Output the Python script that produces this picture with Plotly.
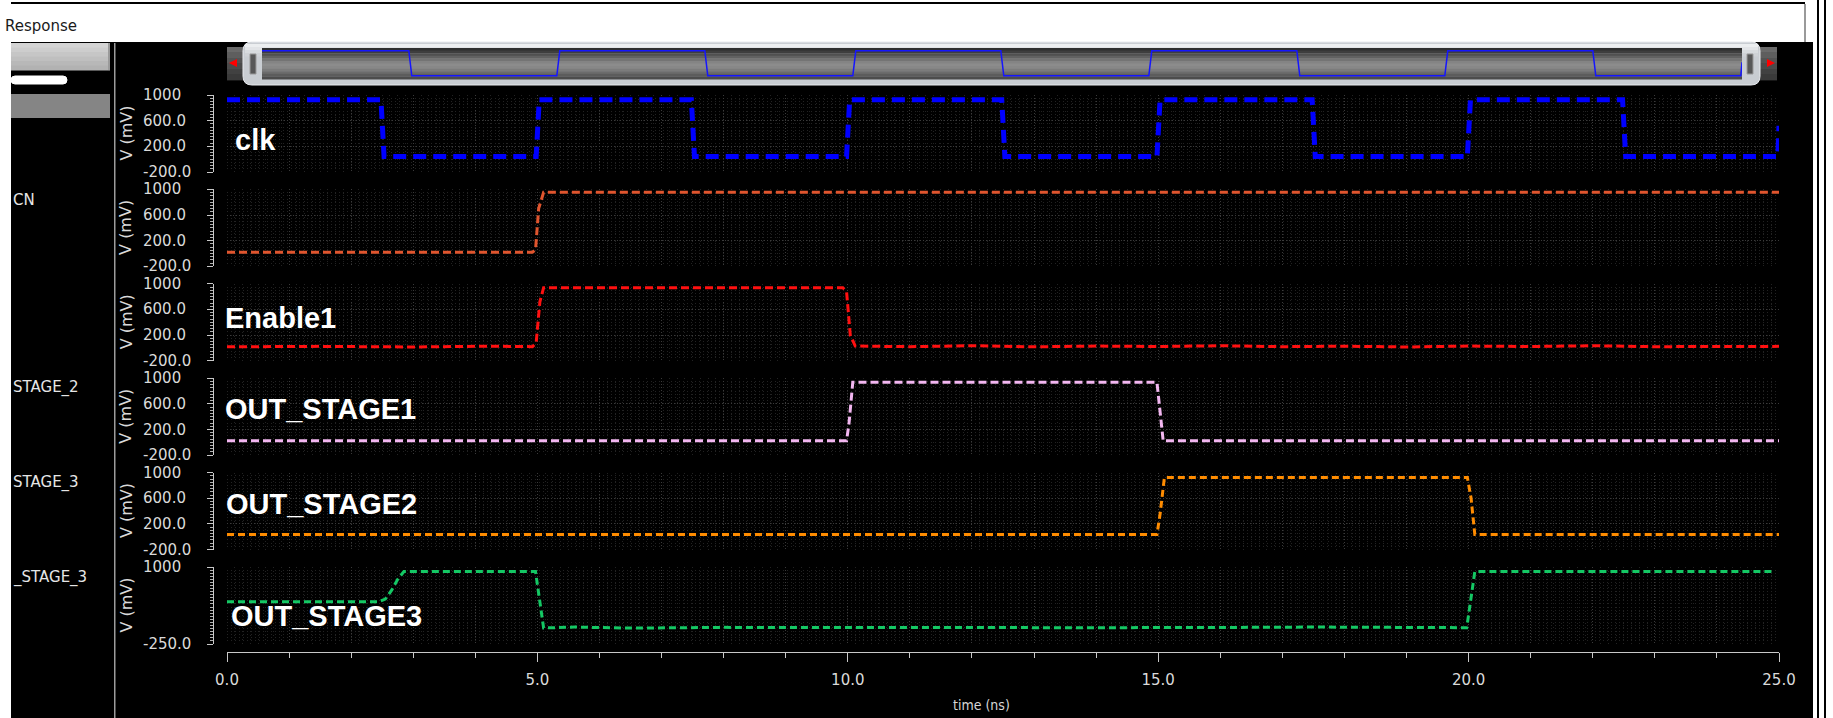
import plotly.graph_objects as go

# ---------------- data ----------------
time_ticks = [0, 5, 10, 15, 20, 25]
time_tick_text = ["0.0", "5.0", "10.0", "15.0", "20.0", "25.0"]

volt_ticks = [-200, 200, 600, 1000]
volt_tick_text = ["-200.0", "200.0", "600.0", "1000"]
volt_ticks_last = [-250, 1000]
volt_tick_text_last = ["-250.0", "1000"]

clk_t = [0.0, 2.48, 2.53, 4.98, 5.03, 7.48, 7.53, 9.98, 10.03, 12.48, 12.53,
         14.98, 15.03, 17.48, 17.53, 19.98, 20.03, 22.48, 22.53, 24.98, 25.0]
clk_v = [925, 925, 40, 40, 925, 925, 40, 40, 925, 925, 40,
         40, 925, 925, 40, 40, 925, 925, 40, 40, 520]

cn_t = [0.0, 4.92, 4.97, 5.02, 5.10, 25.0]
cn_v = [20, 20, 60, 700, 955, 955]

en_t = [0.0, 1.5, 3.0, 4.2, 4.92, 4.98, 5.04, 5.10, 9.92, 9.98, 10.04, 10.12,
        11.0, 12.0, 13.0, 14.0, 15.0, 16.0, 17.0, 18.0, 19.0, 20.0, 21.0,
        22.0, 23.0, 24.0, 25.0]
en_v = [18, 25, 15, 28, 20, 80, 720, 940, 940, 880, 200, 30,
        20, 35, 18, 30, 22, 35, 20, 28, 15, 30, 22,
        35, 20, 28, 25]

s1_t = [0.0, 9.98, 10.02, 10.08, 14.98, 15.02, 15.08, 25.0]
s1_v = [25, 25, 300, 935, 935, 600, 25, 25]

s2_t = [0.0, 14.98, 15.03, 15.10, 19.98, 20.04, 20.10, 25.0]
s2_v = [35, 35, 350, 925, 925, 600, 35, 35]

s3_t = [0.0, 2.45, 2.55, 2.65, 2.75, 2.85, 4.97, 5.03, 5.10, 5.6, 6.5, 8.0,
        10.0, 12.0, 14.0, 16.0, 17.5, 19.97, 20.02, 20.10, 24.9]
s3_v = [437, 437, 480, 620, 800, 925, 925, 500, 10, 25, 8, 20,
        15, 18, 15, 18, 25, 15, 400, 925, 925]

signals = [
    ("clk", clk_t, clk_v),
    ("CN", cn_t, cn_v),
    ("Enable1", en_t, en_v),
    ("OUT_STAGE1", s1_t, s1_v),
    ("OUT_STAGE2", s2_t, s2_v),
    ("OUT_STAGE3", s3_t, s3_v),
]
panel_titles = ["clk", "", "Enable1", "OUT_STAGE1", "OUT_STAGE2", "OUT_STAGE3"]
browser_names = ["", "CN", "", "STAGE_2", "STAGE_3", "_STAGE_3"]

# ---------------- styling ----------------
W, H = 1833, 718


def px(x):
    return x / W


def py(y):
    return 1 - y / H


colors = ["#0000ff", "#e0552e", "#ff1010", "#f2b6f0", "#ff8c00", "#14c864"]
widths = [5, 3, 3, 3, 3, 3]
dashes = ["13px,7px", "8px,4px", "8px,4px", "8px,4px", "7px,4px", "7px,4px"]
label_pos = [(233, 140), None, (223, 318), (223, 409), (224, 504), (229, 616)]
name_pos = [None, 200, None, 388, 483, 577]

X0, X1 = 227, 1779
RULER_X = 213
panel_top = [95 + 94.4 * i for i in range(6)]
PANEL_H = 77

axis_font = dict(family="DejaVu Sans", size=15, color="#dadada")
GRID_MAJOR = "#3a3a3a"
GRID_MINOR = "#222222"

fig = go.Figure()
layout = dict(
    width=W, height=H, margin=dict(l=0, r=0, t=0, b=0, autoexpand=False),
    paper_bgcolor="#ffffff", plot_bgcolor="rgba(0,0,0,0)",
    showlegend=False,
)
annotations = []
shapes = []

for i, (name, t, v) in enumerate(signals):
    n = i + 1
    xa = "xaxis" if n == 1 else f"xaxis{n}"
    ya = "yaxis" if n == 1 else f"yaxis{n}"
    top = panel_top[i]
    bot = top + PANEL_H
    last = i == 5
    rng = [-250, 1000] if last else [-200, 1000]
    tvals = volt_ticks_last if last else volt_ticks
    ttext = volt_tick_text_last if last else volt_tick_text

    fig.add_trace(go.Scatter(
        x=t, y=v, mode="lines", name=name,
        xaxis="x" if n == 1 else f"x{n}", yaxis="y" if n == 1 else f"y{n}",
        line=dict(color=colors[i], width=widths[i], dash=dashes[i]),
        hoverinfo="skip",
    ))

    layout[xa] = dict(
        domain=[px(X0), px(X1)], range=[0, 25], anchor="y" if n == 1 else f"y{n}",
        showticklabels=False, showline=False, ticks="", zeroline=False, automargin=False,
        showgrid=True, dtick=1, tick0=0, gridcolor=GRID_MAJOR, griddash="1px,2px",
        minor=dict(dtick=0.125, showgrid=True, gridcolor=GRID_MINOR, griddash="1px,3px"),
    )
    if n > 1:
        layout[xa]["matches"] = "x"
    layout[ya] = dict(
        domain=[py(bot), py(top)], range=rng, anchor="free", position=px(RULER_X),
        showline=True, linecolor="#c8c8c8", linewidth=1, automargin=False,
        ticks="outside", ticklen=6, tickcolor="#c8c8c8", tickwidth=1,
        tickmode="array", tickvals=tvals, showticklabels=False, zeroline=False,
        showgrid=True, gridcolor=GRID_MAJOR, griddash="1px,2px",
        minor=dict(tickmode="linear", tick0=rng[0], dtick=50, ticks="outside", ticklen=3,
                   tickcolor="#b0b0b0", showgrid=True, gridcolor=GRID_MINOR,
                   griddash="1px,3px"),
    )
    yref = "y" if n == 1 else f"y{n}"
    for val, txt in zip(tvals, ttext):
        annotations.append(dict(
            x=px(141), xref="paper", y=val, yref=yref, text=txt, showarrow=False,
            xanchor="left", yanchor="middle", font=axis_font,
        ))
    annotations.append(dict(
        x=px(126), xref="paper", y=py(top + PANEL_H / 2), yref="paper",
        text="V (mV)", textangle=-90, showarrow=False, xanchor="center",
        yanchor="middle", font=dict(family="DejaVu Sans", size=16, color="#dadada"),
    ))
    if panel_titles[i] and label_pos[i]:
        lx, ly = label_pos[i]
        annotations.append(dict(
            x=px(lx), y=py(ly), xref="paper", yref="paper", text=panel_titles[i],
            showarrow=False, xanchor="left", yanchor="middle",
            font=dict(family="Liberation Sans", size=29, color="#ffffff", weight="bold"),
        ))
    if browser_names[i]:
        annotations.append(dict(
            x=px(11), y=py(name_pos[i]), xref="paper", yref="paper",
            text=browser_names[i], showarrow=False, xanchor="left", yanchor="middle",
            font=dict(family="DejaVu Sans", size=15, color="#e6e6e6"),
        ))

# bottom time axis
layout["xaxis7"] = dict(
    domain=[px(X0), px(X1)], range=[0, 25], anchor="free", position=py(652),
    showline=True, linecolor="#c8c8c8", linewidth=1, showgrid=False, zeroline=False,
    automargin=False,
    tickmode="array", tickvals=time_ticks, ticktext=time_tick_text,
    ticks="outside", ticklen=9, tickcolor="#c8c8c8", tickfont=axis_font,
    ticklabelstandoff=5,
    minor=dict(tickmode="linear", tick0=0, dtick=1, ticks="outside", ticklen=5,
               tickcolor="#c8c8c8", showgrid=False),
)
layout["yaxis7"] = dict(domain=[0, 0.02], range=[0, 1], visible=False, automargin=False)
fig.add_trace(go.Scatter(x=[time_ticks[0], time_ticks[-1]], y=[0, 0], xaxis="x7",
                         yaxis="y7", mode="markers", marker=dict(opacity=0),
                         hoverinfo="skip"))
annotations.append(dict(
    x=px(982), y=py(705), xref="paper", yref="paper", text="time (ns)",
    showarrow=False, xanchor="center", yanchor="middle",
    font=dict(family="DejaVu Sans Condensed, DejaVu Sans", size=14, color="#d6d6d6"),
))

# overview waveform inside the scroll bar
layout["xaxis8"] = dict(domain=[px(262), px(1742)], range=[0, 25], visible=False,
                        automargin=False)
layout["yaxis8"] = dict(domain=[py(79), py(48)], range=[-70, 1020], visible=False,
                        automargin=False)
fig.add_trace(go.Scatter(x=clk_t, y=clk_v, xaxis="x8", yaxis="y8", mode="lines",
                         line=dict(color="#1515ff", width=1.5), hoverinfo="skip"))


def rect(x0, y0, x1, y1, fill, line=None):
    return dict(type="rect", xref="paper", yref="paper", layer="below",
                x0=px(x0), x1=px(x1), y0=py(y1), y1=py(y0), fillcolor=fill,
                line=dict(width=0) if line is None else line)


def vbands(x0, y0, x1, y1, cols):
    n = len(cols)
    h = (y1 - y0) / n
    return [rect(x0, y0 + k * h, x1, y0 + (k + 1) * h + 0.4, c) for k, c in enumerate(cols)]


def rounded(x0, y0, x1, y1, r, fill, line_col):
    X = [px(v) for v in (x0, x0 + r, x1 - r, x1)]
    Y = [py(v) for v in (y0, y0 + r, y1 - r, y1)]
    p = (f"M{X[1]},{Y[0]} L{X[2]},{Y[0]} Q{X[3]},{Y[0]} {X[3]},{Y[1]} "
         f"L{X[3]},{Y[2]} Q{X[3]},{Y[3]} {X[2]},{Y[3]} L{X[1]},{Y[3]} "
         f"Q{X[0]},{Y[3]} {X[0]},{Y[2]} L{X[0]},{Y[1]} Q{X[0]},{Y[0]} {X[1]},{Y[0]} Z")
    return dict(type="path", xref="paper", yref="paper", layer="below", path=p,
                fillcolor=fill, line=dict(color=line_col, width=1))


def tri(cx, cy, s, direction, fill):
    if direction < 0:
        pts = [(cx - s, cy), (cx + s * 0.6, cy - s * 0.8), (cx + s * 0.6, cy + s * 0.8)]
    else:
        pts = [(cx + s, cy), (cx - s * 0.6, cy - s * 0.8), (cx - s * 0.6, cy + s * 0.8)]
    p = "M" + " L".join(f"{px(a)},{py(b)}" for a, b in pts) + " Z"
    return dict(type="path", xref="paper", yref="paper", layer="below", path=p,
                fillcolor=fill, line=dict(width=0))


# window frame
shapes.append(rect(11, 42, 1813, 718, "#000000"))
shapes.append(rect(11, 2, 1805, 4, "#000000"))
shapes.append(rect(1817, 0, 1819, 718, "#000000"))
shapes.append(rect(1824, 0, 1826, 718, "#000000"))
shapes.append(rect(1804, 4, 1806, 42, "#9a9a9a"))

# signal browser pane
shapes += vbands(11, 43, 110, 70, ["#d4d4d4", "#cdcdcd", "#c6c6c6", "#bfbfbf",
                                   "#b8b8b8", "#b2b2b2"])
shapes.append(rect(108, 43, 110, 70, "#9a9a9a"))
shapes.append(rounded(11, 76, 67, 84, 4, "#ffffff", "#ffffff"))
shapes.append(rect(11, 94, 110, 118, "#858585"))
shapes.append(rect(114, 43, 115.5, 718, "#9c9c9c"))

# scroll bar
shapes += vbands(227, 47, 243, 80, ["#6a6a6a", "#5e5e5e", "#535353", "#4a4a4a",
                                    "#414141", "#3a3a3a"])
shapes += vbands(1760, 47, 1777, 80, ["#6a6a6a", "#5e5e5e", "#535353", "#4a4a4a",
                                      "#414141", "#3a3a3a"])
shapes.append(tri(234, 63, 5, -1, "#ff0000"))
shapes.append(tri(1770, 63, 5, 1, "#ff0000"))
shapes.append(rounded(243, 42, 1760, 85, 9, "#c9cdd2", "#e8eaee"))
shapes += vbands(245, 44, 1758, 56, ["#eceef0", "#e2e4e7", "#d8dbde", "#cfd2d6"])
shapes += vbands(262, 48, 1742, 79, ["#2e2e2e", "#3e3e3e", "#505050", "#626262",
                                     "#747474", "#848484", "#8c8c8c", "#888888",
                                     "#7c7c7c", "#6c6c6c", "#5c5c5c", "#4c4c4c"])
shapes.append(rect(250, 54, 256, 74, "#585858", dict(color="#9a9a9a", width=1)))
shapes.append(rect(1747, 54, 1753, 74, "#585858", dict(color="#9a9a9a", width=1)))

annotations.append(dict(
    x=px(3), y=py(26), xref="paper", yref="paper", text="Response", showarrow=False,
    xanchor="left", yanchor="middle",
    font=dict(family="DejaVu Sans", size=15, color="#1a1a1a"),
))

layout["shapes"] = shapes
layout["annotations"] = annotations
fig.update_layout(**layout)
fig.write_html("out.html")
